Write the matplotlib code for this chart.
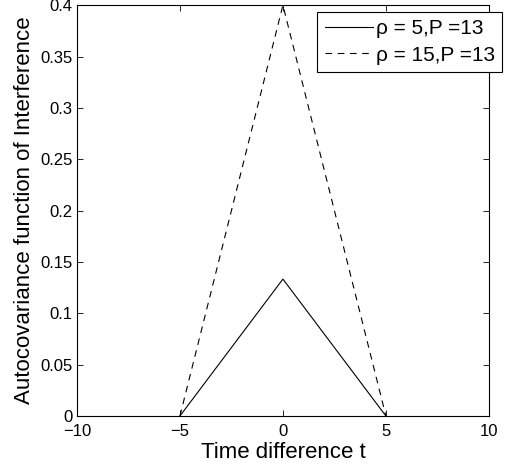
import numpy as np
import matplotlib.pyplot as plt

plt.rcParams['font.family'] = ['Liberation Sans', 'DejaVu Sans']

t = [-5, 0, 5]
acf_rho5 = [0, 0.1333, 0]
acf_rho15 = [0, 0.4, 0]
xticks = [-10, -5, 0, 5, 10]
yticks = [0, 0.05, 0.1, 0.15, 0.2, 0.25, 0.3, 0.35, 0.4]

fig = plt.figure(figsize = (5.13, 4.69), dpi = 100)
ax = fig.add_axes([0.150, 0.113, 0.803, 0.876])

ax.plot(t, acf_rho5, 'k-', linewidth = 0.8, label = 'ρ = 5,P =13')
ax.plot(t, acf_rho15, 'k--', linewidth = 0.8, dashes = (6, 5), label = 'ρ = 15,P =13')

ax.set_xlim(-10, 10)
ax.set_ylim(0, 0.4)
ax.set_xticks(xticks)
ax.set_xticklabels(['\u221210', '\u22125', '0', '5', '10'])
ax.set_yticks(yticks)
ax.set_yticklabels(['0', '0.05', '0.1', '0.15', '0.2', '0.25', '0.3', '0.35', '0.4'])
ax.tick_params(direction = 'in', top = True, right = True, labelsize = 12, length = 4, width = 0.6)
ax.tick_params(axis = 'x', pad = 6)
ax.tick_params(axis = 'y', pad = 3)
for s in ax.spines.values():
    s.set_linewidth(0.8)

ax.set_xlabel('Time difference t', fontsize = 16, labelpad = 2)
ax.set_ylabel('Autocovariance function of Interference', fontsize = 16, labelpad = 4)

leg = fig.legend(loc = 'upper right', bbox_to_anchor = (0.979, 0.974), fontsize = 15,
                 frameon = True, fancybox = False, edgecolor = 'black', framealpha = 1,
                 handlelength = 2.3, handletextpad = 0.15, borderpad = 0.35, labelspacing = 0.35,
                 borderaxespad = 0)
leg.get_frame().set_linewidth(0.8)

fig.savefig('out.png', dpi = 100)
